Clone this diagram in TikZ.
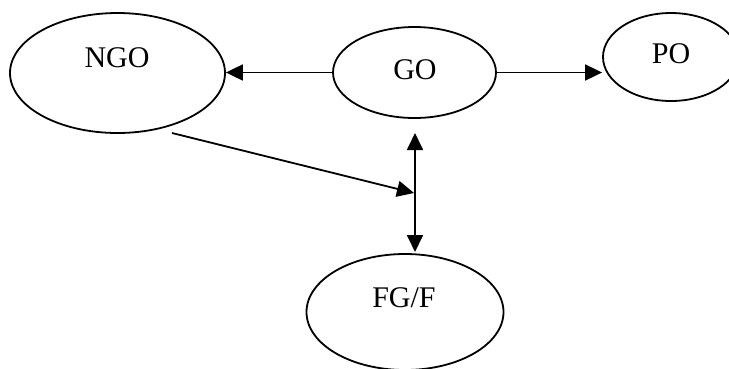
\documentclass[tikz,border=0pt]{standalone}
\usepackage{fontspec}
\setmainfont{Liberation Serif}
\usetikzlibrary{shapes.geometric,arrows.meta}
\begin{document}
\begin{tikzpicture}[x=1pt,y=-1pt,
  bubble/.style={ellipse,draw,line width=1.8pt,inner sep=0pt},
  lbl/.style={font=\fontsize{30}{36}\selectfont,inner sep=0pt,anchor=base},
  tip/.tip={Triangle[length=17pt,width=16pt]},
  conn/.style={line width=1.8pt,-tip},
  biconn/.style={line width=1.8pt,tip-tip}]
\useasboundingbox (0,0) rectangle (729,368);
\clip (0,0) rectangle (729,368);

% ellipses
\node[bubble,minimum width=215pt,minimum height=120pt] (ngo) at (117.5,73) {};
\node[bubble,minimum width=163pt,minimum height=91pt] (go) at (414.5,72.5) {};
\node[bubble,minimum width=136pt,minimum height=88pt] (po) at (671,57) {};
\node[bubble,minimum width=197pt,minimum height=116pt] (fgf) at (405,312) {};

% labels
\node[lbl] (ngo-t) at (117,67) {NGO};
\node[lbl] (go-t) at (415,79) {GO};
\node[lbl] (po-t) at (671,63) {PO};
\node[lbl] (fgf-t) at (404,307) {FG/F};

% connector end points
\coordinate (vtop) at (415,133);
\coordinate (vbot) at (415,252);
\coordinate (nstart) at (172,133);
\coordinate (vmid) at (414,193);

% connectors
\draw[conn] (go.west) -- (ngo.east |- go.west);
\draw[conn] (go.east) -- (go.east -| po.west);
\draw[biconn] (vtop) -- (vbot);
\draw[conn] (nstart) -- (vmid);
\end{tikzpicture}
\end{document}
